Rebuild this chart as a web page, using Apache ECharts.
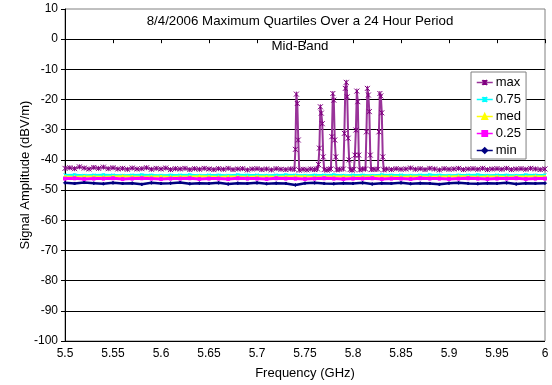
<!DOCTYPE html>
<html>
<head>
<meta charset="utf-8">
<script src="https://cdn.jsdelivr.net/npm/echarts@6/dist/echarts.min.js"></script>
<style>
  html, body { margin: 0; padding: 0; background: #fff; }
  #chart { width: 552px; height: 385px; }
</style>
</head>
<body>
<div id="chart"></div>
<script>
// frequency (GHz) / amplitude (dBV/m) readings for the max curve, dense around the spikes
const maxFreqs = [
  5.500, 5.505, 5.510, 5.515, 5.520, 5.525, 5.530, 5.535, 5.540, 5.545,
  5.550, 5.555, 5.560, 5.565, 5.570, 5.575, 5.580, 5.585, 5.590, 5.595,
  5.600, 5.605, 5.610, 5.615, 5.620, 5.625, 5.630, 5.635, 5.640, 5.645,
  5.650, 5.655, 5.660, 5.665, 5.670, 5.675, 5.680, 5.685, 5.690, 5.695,
  5.700, 5.705, 5.710, 5.715, 5.720, 5.725, 5.730, 5.735,
  5.739, 5.740, 5.741, 5.742, 5.743, 5.744,
  5.748, 5.752, 5.756, 5.760,
  5.763, 5.764, 5.765, 5.766, 5.767, 5.768, 5.769, 5.770,
  5.773, 5.775,
  5.777, 5.778, 5.779, 5.780, 5.781, 5.782, 5.783,
  5.786,
  5.790, 5.791, 5.792, 5.793, 5.794, 5.795, 5.796, 5.797,
  5.799,
  5.801, 5.802, 5.803, 5.804, 5.805, 5.806, 5.807,
  5.810,
  5.813, 5.814, 5.815, 5.816, 5.817, 5.818, 5.819,
  5.822,
  5.826, 5.827, 5.828, 5.829, 5.830, 5.831, 5.832,
  5.835, 5.840, 5.845, 5.850, 5.855, 5.860, 5.865, 5.870, 5.875, 5.880,
  5.885, 5.890, 5.895, 5.900, 5.905, 5.910, 5.915, 5.920, 5.925, 5.930,
  5.935, 5.940, 5.945, 5.950, 5.955, 5.960, 5.965, 5.970, 5.975, 5.980,
  5.985, 5.990, 5.995, 6.000
];
const maxVals = [
  -42.8, -42.6, -42.9, -42.3, -42.7, -43.0, -42.5, -42.8, -42.4, -42.9,
  -42.6, -43.0, -42.8, -43.1, -42.7, -43.0, -42.9, -42.6, -43.1, -42.8,
  -43.0, -42.7, -43.2, -42.9, -43.0, -42.8, -43.2, -42.9, -43.1, -42.8,
  -43.0, -43.2, -42.9, -43.1, -42.8, -43.2, -43.0, -42.9, -43.3, -43.0,
  -42.9, -43.2, -43.0, -43.3, -42.9, -43.1, -43.2, -43.0,
  -43.1, -36.5, -18.2, -21.3, -33.4, -43.4,
  -43.1, -43.3, -43.0, -43.2,
  -43.0, -41.5, -36.1, -22.4, -24.5, -28.0, -39.0, -43.2,
  -43.4, -43.1,
  -43.0, -32.3, -18.0, -20.2, -33.4, -39.0, -43.3,
  -43.1,
  -43.0, -31.2, -16.3, -14.3, -19.1, -32.8, -40.0, -43.2,
  -43.4,
  -43.1, -38.4, -30.1, -17.2, -20.7, -38.4, -43.3,
  -43.0,
  -43.0, -30.7, -16.3, -18.5, -24.0, -38.4, -43.2,
  -43.1,
  -43.1, -30.7, -18.0, -18.8, -24.4, -39.0, -43.3,
  -43.0, -43.2, -42.9, -43.1, -43.0, -42.7, -43.1, -42.9, -43.2, -42.8,
  -43.0, -43.3, -42.9, -43.1, -43.0, -42.8, -43.2, -43.0, -42.9, -43.1,
  -42.8, -43.2, -43.0, -42.9, -43.1, -42.8, -43.2, -43.0, -42.9, -43.1,
  -42.8, -43.0, -43.2, -43.0
];

// quartile curves read every 0.01 GHz
const qFreqs = [
  5.50, 5.51, 5.52, 5.53, 5.54, 5.55, 5.56, 5.57, 5.58, 5.59,
  5.60, 5.61, 5.62, 5.63, 5.64, 5.65, 5.66, 5.67, 5.68, 5.69,
  5.70, 5.71, 5.72, 5.73, 5.74, 5.75, 5.76, 5.77, 5.78, 5.79,
  5.80, 5.81, 5.82, 5.83, 5.84, 5.85, 5.86, 5.87, 5.88, 5.89,
  5.90, 5.91, 5.92, 5.93, 5.94, 5.95, 5.96, 5.97, 5.98, 5.99, 6.00
];
const q75Vals = [
  -45.0, -44.9, -45.1, -45.0, -44.9, -45.0, -45.1, -45.0, -44.9, -45.0,
  -45.1, -45.0, -45.0, -44.9, -45.1, -45.0, -45.0, -45.1, -44.9, -45.0,
  -45.0, -45.1, -45.0, -44.9, -45.0, -45.1, -45.0, -45.0, -44.9, -45.1,
  -45.0, -45.0, -45.1, -44.9, -45.0, -45.0, -45.1, -45.0, -44.9, -45.0,
  -45.1, -45.0, -45.0, -44.9, -45.1, -45.0, -45.0, -45.1, -44.9, -45.0, -45.0
];
const medVals = [
  -45.5, -45.6, -45.5, -45.5, -45.6, -45.5, -45.4, -45.5, -45.6, -45.5,
  -45.5, -45.6, -45.5, -45.5, -45.4, -45.5, -45.6, -45.5, -45.5, -45.6,
  -45.5, -45.5, -45.6, -45.5, -45.4, -45.5, -45.6, -45.5, -45.5, -45.5,
  -45.6, -45.5, -45.5, -45.4, -45.5, -45.6, -45.5, -45.5, -45.6, -45.5,
  -45.5, -45.4, -45.5, -45.6, -45.5, -45.5, -45.6, -45.5, -45.5, -45.4, -45.5
];
const q25Vals = [
  -46.2, -46.1, -46.3, -46.2, -46.2, -46.1, -46.3, -46.2, -46.1, -46.2,
  -46.3, -46.2, -46.2, -46.1, -46.3, -46.2, -46.2, -46.3, -46.1, -46.2,
  -46.2, -46.3, -46.1, -46.2, -46.2, -46.3, -46.2, -46.1, -46.2, -46.3,
  -46.2, -46.2, -46.1, -46.3, -46.2, -46.2, -46.3, -46.1, -46.2, -46.2,
  -46.3, -46.2, -46.1, -46.2, -46.3, -46.2, -46.2, -46.1, -46.3, -46.2, -46.2
];
const minVals = [
  -47.6, -47.8, -47.5, -47.7, -47.9, -47.6, -47.8, -47.7, -48.1, -47.6,
  -47.8, -47.7, -47.5, -47.9, -47.7, -47.8, -47.6, -48.0, -47.7, -47.8,
  -47.6, -47.9, -47.7, -47.8, -48.3, -47.7, -47.6, -47.8, -47.9, -47.7,
  -47.8, -47.6, -48.0, -47.7, -47.8, -47.6, -47.9, -47.7, -47.8, -48.1,
  -47.7, -47.6, -47.8, -47.9, -47.7, -47.8, -47.6, -48.0, -47.7, -47.8, -47.7
];

const seriesNames = ['max', '0.75', 'med', '0.25', 'min'];
const seriesColors = ['#800080', '#00FFFF', '#FFFF00', '#FF00FF', '#000080'];

const xTicks = { min: 5.5, max: 6, step: 0.05 };
const yTicks = { min: -100, max: 10, step: 10 };

const FONT = '"Liberation Sans", Arial, sans-serif';
const asterisk = 'path://M0,0L10,10M10,0L0,10M5,0L5,10';

const pairs = (xs, ys) => xs.map((x, i) => [x, ys[i]]);

const chart = echarts.init(document.getElementById('chart'));

const lineSeries = (idx, xs, ys, opts) => Object.assign({
  name: seriesNames[idx],
  type: 'line',
  data: pairs(xs, ys),
  color: seriesColors[idx],
  showSymbol: true,
  symbolSize: 3,
  animation: false,
  lineStyle: { width: 2, color: seriesColors[idx] },
  itemStyle: { color: seriesColors[idx], borderColor: seriesColors[idx], borderWidth: 1 },
  emphasis: { disabled: true }
}, opts);

const option = {
  backgroundColor: '#fff',
  textStyle: { fontFamily: FONT },
  title: {
    text: '8/4/2006 Maximum Quartiles Over a 24 Hour Period\nMid-Band',
    left: 300,
    top: 9,
    padding: 0,
    textAlign: 'center',
    textStyle: { fontFamily: FONT, fontSize: 13.3, fontWeight: 'normal', color: '#000', lineHeight: 25 }
  },
  legend: {
    data: seriesNames,
    orient: 'vertical',
    left: 471,
    top: 72,
    padding: [4, 5, 2, 5],
    itemGap: 4,
    itemWidth: 16,
    itemHeight: 6,
    backgroundColor: '#fff',
    borderColor: '#808080',
    borderWidth: 1,
    lineStyle: { width: 1.5 },
    textStyle: { fontFamily: FONT, fontSize: 13, color: '#000', padding: [0, 0, 0, -2] }
  },
  grid: {
    left: 65,
    right: 7,
    top: 9,
    bottom: 44,
    show: true,
    borderColor: '#808080',
    borderWidth: 1,
    outerBoundsMode: 'none'
  },
  xAxis: {
    type: 'value',
    min: xTicks.min,
    max: xTicks.max,
    interval: xTicks.step,
    name: 'Frequency (GHz)',
    nameLocation: 'middle',
    nameGap: 26,
    nameMoveOverlap: false,
    nameTextStyle: { fontFamily: FONT, fontSize: 13, color: '#000' },
    axisLine: { show: true, lineStyle: { color: '#000', width: 1 } },
    axisTick: { show: true, length: 4, lineStyle: { color: '#000' } },
    axisLabel: { fontFamily: FONT, fontSize: 12, color: '#000', margin: 7 },
    splitLine: { show: false }
  },
  yAxis: {
    type: 'value',
    min: yTicks.min,
    max: yTicks.max,
    interval: yTicks.step,
    name: 'Signal Amplitude (dBV/m)',
    nameLocation: 'middle',
    nameGap: 33,
    nameMoveOverlap: false,
    nameTextStyle: { fontFamily: FONT, fontSize: 13, color: '#000' },
    axisLine: { show: true, lineStyle: { color: '#000', width: 1 } },
    axisTick: { show: true, length: 4, lineStyle: { color: '#000' } },
    axisLabel: { fontFamily: FONT, fontSize: 12, color: '#000', margin: 7 },
    splitLine: { show: true, showMaxLine: false, lineStyle: { color: '#000', width: 1 } }
  },
  series: [
    lineSeries(0, maxFreqs, maxVals, {
      symbol: asterisk,
      symbolSize: 5,
      z: 5,
      lineStyle: { width: 2, color: '#993399' }
    }),
    lineSeries(1, qFreqs, q75Vals, { symbol: asterisk, lineStyle: { width: 2, color: seriesColors[1] } }),
    lineSeries(2, qFreqs, medVals, { symbol: 'triangle', lineStyle: { width: 2, color: seriesColors[2] } }),
    lineSeries(3, qFreqs, q25Vals, { symbol: 'rect', lineStyle: { width: 3, color: seriesColors[3] } }),
    lineSeries(4, qFreqs, minVals, { symbol: 'diamond', lineStyle: { width: 2.5, color: seriesColors[4] } })
  ]
};

chart.setOption(option);

window.addEventListener('resize', () => chart.resize());
</script>
</body>
</html>
